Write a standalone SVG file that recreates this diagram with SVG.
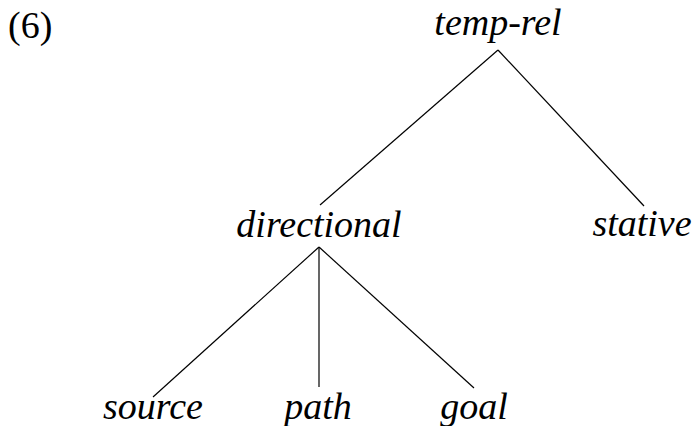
<svg xmlns="http://www.w3.org/2000/svg" width="694" height="426" viewBox="0 0 694 426">
  <style>
    .lbl { font-family: 'Liberation Serif', 'Times New Roman', serif; font-size: 38px; font-style: italic; fill: #000; text-anchor: middle; }
    .num { font-family: 'Liberation Serif', 'Times New Roman', serif; font-size: 38px; fill: #000; }
    .edge { stroke: #000; stroke-width: 1.2; fill: none; }
  </style>
  <rect width="694" height="426" fill="#fff"/>
  <text class="num" x="8" y="38">(6)</text>
  <g id="connectors">
    <line class="edge" x1="498" y1="50" x2="320" y2="205"/>
    <line class="edge" x1="498" y1="50" x2="644" y2="206"/>
    <line class="edge" x1="319" y1="247" x2="153" y2="397"/>
    <line class="edge" x1="319" y1="247" x2="319" y2="387"/>
    <line class="edge" x1="319" y1="247" x2="474" y2="388"/>
  </g>
  <g id="temp-rel"><text class="lbl" x="498" y="35">temp-rel</text></g>
  <g id="directional"><text class="lbl" x="319" y="237">directional</text></g>
  <g id="stative"><text class="lbl" x="642" y="236">stative</text></g>
  <g id="source"><text class="lbl" x="153" y="419">source</text></g>
  <g id="path"><text class="lbl" x="318" y="419">path</text></g>
  <g id="goal"><text class="lbl" x="474" y="419">goal</text></g>
</svg>
